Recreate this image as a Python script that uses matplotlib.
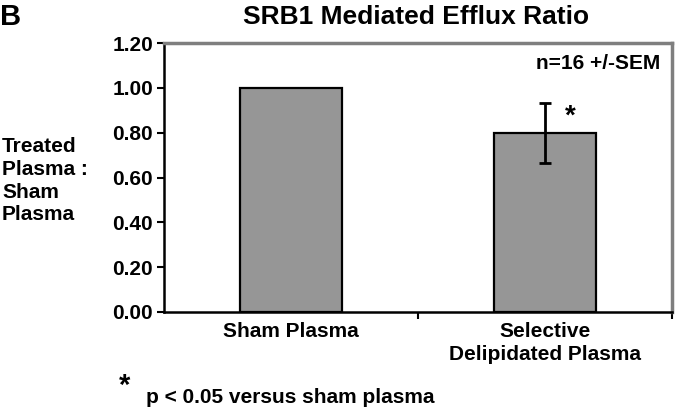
import numpy as np
import matplotlib
matplotlib.use('Agg')
import matplotlib.pyplot as plt

plt.rcParams['font.family'] = ['Liberation Sans', 'DejaVu Sans']
plt.rcParams['font.weight'] = 'bold'

# data
groups = ['Sham Plasma', 'Selective\nDelipidated Plasma']
ratio = [1.00, 0.80]
sem = [0.0, 0.135]
yticks = [0.0, 0.2, 0.4, 0.6, 0.8, 1.0, 1.2]

fig = plt.figure(figsize=(6.75, 4.11), dpi=100)
ax = fig.add_axes([0.243, 0.241, 0.753, 0.654])

x = np.arange(len(groups))
ax.bar(x, ratio, width=0.4, color='#969696', edgecolor='black', linewidth=1.6, zorder=2)
# error bar only on the second group
ax.errorbar(x[1], ratio[1], yerr=sem[1], fmt='none', ecolor='black',
            elinewidth=2, capsize=4.5, capthick=2, zorder=3)
ax.text(x[1] + 0.1, ratio[1] + 0.07, '*', fontsize=20, ha='center', va='center')

ax.set_xlim(-0.5, 1.5)
ax.set_ylim(0, 1.2)
ax.set_yticks(yticks)
ax.set_yticklabels(['%.2f' % t for t in yticks], fontsize=15, fontweight='bold')
ax.set_xticks(x)
ax.set_xticklabels(groups, fontsize=15, fontweight='bold', linespacing=1.3)
ax.tick_params(axis='x', length=0, pad=7)
ax.tick_params(axis='y', length=5, width=1.5, direction='out', pad=3)
ax.set_xticks([0.5, 1.5], minor=True)
ax.tick_params(axis='x', which='minor', length=5, width=1.5, direction='out')

for s in ['left', 'bottom']:
    ax.spines[s].set_color('black')
    ax.spines[s].set_linewidth(1.8)
for s in ['top', 'right']:
    ax.spines[s].set_color('#7f7f7f')
    ax.spines[s].set_linewidth(2.5)

ax.text(0.976, 0.926, 'n=16 +/-SEM', transform=ax.transAxes, ha='right', va='center',
        fontsize=15, fontweight='bold')

fig.text(0.003, 0.56, 'Treated\nPlasma :\nSham\nPlasma', ha='left', va='center',
         fontsize=15, fontweight='bold', linespacing=1.25)
fig.text(0.0, 0.958, 'B', ha='left', va='center', fontsize=21, fontweight='bold')
fig.text(0.617, 0.958, 'SRB1 Mediated Efflux Ratio', ha='center', va='center',
         fontsize=19, fontweight='bold')
fig.text(0.176, 0.062, '*', ha='left', va='center', fontsize=21, fontweight='bold')
fig.text(0.216, 0.034, 'p < 0.05 versus sham plasma', ha='left', va='center',
         fontsize=15, fontweight='bold')

plt.savefig('out.png', dpi=100)
